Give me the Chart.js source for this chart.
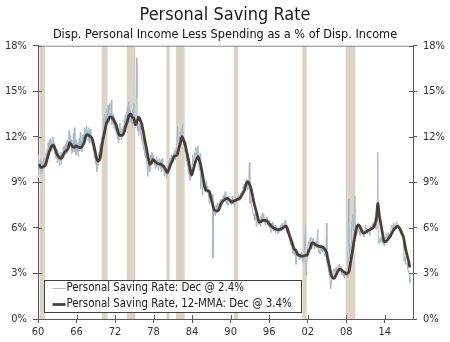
<!DOCTYPE html>
<html>
<head>
<meta charset="utf-8">
<title>Personal Saving Rate</title>
<script src="https://cdn.jsdelivr.net/npm/chart.js@4.4.1/dist/chart.umd.min.js"></script>
<style>
  html, body { margin: 0; padding: 0; background: #fff; }
  canvas { display: block; }
</style>
</head>
<body>
<canvas id="savingChart" width="450" height="342"></canvas>
<script>
// monthly saving rate, Jan 1960 - Dec 2017 (one row per year)
const firstYear = 1960;
const savingRate = [
  10.8, 9.3, 10.2, 9.9, 10.5, 10.0, 9.6, 10.3, 9.8, 10.4, 10.1, 10.6,
  10.0, 10.6, 10.3, 10.9, 10.5, 11.2, 10.8, 11.6, 11.0, 11.8, 11.3, 11.5,
  11.9, 11.1, 11.7, 11.2, 12.0, 11.3, 11.6, 10.9, 11.4, 10.6, 11.2, 10.7,
  10.3, 11.1, 10.5, 10.9, 10.1, 10.8, 10.4, 11.0, 10.2, 10.9, 10.6, 11.3,
  10.6, 11.4, 10.8, 11.5, 11.0, 11.7, 10.9, 11.3, 11.8, 11.2, 12.4, 11.6,
  12.1, 11.3, 11.8, 10.9, 11.6, 11.0, 12.2, 11.4, 12.6, 11.0, 11.5, 10.8,
  11.8, 11.0, 11.6, 10.7, 11.3, 11.9, 11.1, 12.3, 11.2, 11.7, 11.0, 12.1,
  11.4, 12.2, 11.7, 12.6, 11.8, 12.5, 11.9, 12.7, 12.0, 12.4, 11.7, 12.6,
  12.3, 11.6, 12.5, 11.8, 12.1, 11.4, 11.9, 11.1, 11.6, 10.7, 11.2, 10.6,
  10.2, 10.8, 9.7, 10.5, 10.1, 11.0, 10.4, 11.4, 10.8, 11.6, 11.3, 12.0,
  11.6, 12.4, 11.9, 13.2, 12.3, 13.5, 12.8, 13.6, 13.0, 13.8, 13.2, 14.1,
  13.6, 12.9, 14.2, 13.1, 13.8, 14.4, 12.8, 13.5, 12.9, 13.4, 12.6, 13.2,
  12.4, 13.1, 12.2, 12.8, 11.9, 12.6, 11.6, 12.3, 11.8, 12.9, 12.2, 12.6,
  11.8, 12.5, 12.0, 12.7, 12.3, 13.1, 12.5, 13.4, 12.8, 13.6, 13.1, 14.0,
  13.2, 14.3, 13.0, 13.9, 13.2, 13.7, 12.9, 13.5, 12.7, 13.8, 13.1, 14.2,
  12.9, 13.3, 12.6, 13.0, 17.2, 14.6, 12.4, 12.9, 12.1, 12.8, 12.4, 12.7,
  12.2, 11.8, 12.3, 11.5, 11.9, 11.2, 11.6, 10.8, 11.3, 10.6, 11.0, 10.4,
  10.1, 9.4, 10.3, 9.9, 10.6, 9.7, 10.8, 10.2, 11.0, 10.4, 10.9, 10.6,
  10.8, 10.2, 10.6, 9.9, 10.4, 10.0, 10.7, 10.1, 10.5, 9.8, 10.3, 10.6,
  10.4, 9.9, 10.5, 9.7, 10.3, 10.6, 9.8, 10.1, 9.4, 9.9, 9.6, 9.7,
  9.3, 9.8, 9.5, 10.1, 9.9, 10.4, 10.0, 10.6, 10.2, 10.8, 10.5, 10.3,
  10.4, 10.9, 10.6, 11.1, 10.5, 10.9, 11.3, 10.7, 12.1, 12.7, 11.6, 11.9,
  12.0, 11.4, 12.3, 11.7, 12.6, 11.9, 12.8, 11.8, 11.4, 11.7, 11.0, 11.3,
  11.1, 10.4, 10.8, 10.1, 10.3, 9.6, 9.9, 9.2, 9.6, 9.1, 9.8, 9.4,
  10.2, 10.8, 10.1, 10.5, 10.3, 11.0, 10.6, 11.3, 10.8, 10.9, 11.4, 10.7,
  10.9, 9.8, 10.5, 10.9, 8.6, 9.9, 9.4, 8.2, 8.8, 9.2, 8.5, 9.0,
  8.4, 8.9, 8.6, 9.1, 8.3, 8.8, 8.5, 8.1, 7.6, 8.2, 7.9, 8.3,
  8.0, 7.7, 8.2, 4.0, 7.3, 6.9, 7.4, 6.8, 7.0, 7.5, 7.2, 7.6,
  7.4, 7.1, 7.6, 7.2, 7.8, 7.5, 7.9, 7.6, 7.9, 7.7, 8.1, 7.8,
  8.2, 8.0, 8.4, 7.8, 7.6, 8.0, 7.7, 7.5, 7.9, 8.1, 7.8, 7.6,
  7.9, 7.5, 7.8, 8.1, 7.6, 7.9, 7.7, 7.4, 7.8, 7.9, 8.0, 7.7,
  7.8, 8.1, 7.9, 8.2, 8.0, 7.8, 7.9, 8.3, 8.0, 8.1, 8.5, 8.7,
  8.6, 8.9, 8.8, 8.6, 9.0, 9.2, 8.7, 8.9, 8.5, 8.8, 9.3, 10.3,
  7.6, 7.9, 7.7, 7.5, 7.3, 7.1, 7.0, 6.8, 6.9, 6.5, 6.6, 7.0,
  6.1, 6.4, 6.3, 6.7, 6.2, 6.5, 6.6, 6.3, 6.1, 6.8, 6.6, 7.0,
  6.7, 6.4, 6.9, 6.3, 6.5, 6.2, 6.6, 6.4, 6.7, 6.2, 6.4, 6.1,
  6.5, 6.0, 6.2, 5.7, 6.3, 6.0, 6.4, 5.9, 6.1, 5.8, 5.9, 6.2,
  5.7, 5.9, 6.1, 5.8, 5.6, 6.0, 5.9, 5.7, 6.0, 6.2, 5.8, 6.1,
  6.3, 6.0, 6.2, 5.9, 6.4, 6.1, 6.5, 6.0, 6.2, 5.7, 6.1, 5.6,
  5.9, 5.4, 5.3, 5.0, 4.9, 5.2, 4.8, 4.6, 4.3, 4.7, 4.5, 4.2,
  4.4, 4.0, 3.6, 4.3, 4.5, 4.1, 4.4, 4.2, 3.9, 4.1, 4.3, 4.0,
  4.4, 4.2, 4.0, 3.8, 3.7, 3.9, 4.6, 5.6, 6.2, 2.9, 3.6, 3.9,
  4.7, 4.9, 5.1, 4.6, 5.2, 5.4, 4.8, 4.6, 5.0, 5.2, 5.3, 5.1,
  4.8, 4.6, 5.0, 4.9, 5.1, 4.7, 5.6, 5.9, 4.4, 4.6, 4.5, 4.3,
  4.9, 4.7, 4.5, 4.6, 4.4, 4.8, 4.5, 4.3, 4.2, 4.1, 4.4, 6.3,
  3.7, 3.6, 3.4, 3.2, 3.0, 2.8, 2.5, 2.0, 2.4, 2.6, 2.9, 3.0,
  3.3, 3.1, 2.8, 2.9, 3.2, 3.4, 3.1, 2.9, 3.3, 3.5, 3.3, 3.6,
  3.4, 3.3, 3.5, 3.1, 2.9, 3.2, 3.0, 2.8, 3.0, 2.7, 2.9, 3.1,
  3.0, 2.8, 3.2, 2.7, 7.9, 6.3, 4.8, 4.0, 4.6, 5.0, 5.8, 6.4,
  6.9, 6.1, 5.8, 6.7, 8.1, 6.3, 5.9, 5.5, 6.0, 5.7, 6.2, 6.0,
  5.8, 5.6, 5.5, 6.1, 6.0, 5.8, 5.6, 5.9, 5.5, 5.4, 5.7, 5.6,
  6.2, 6.0, 5.7, 5.9, 5.6, 5.8, 5.9, 5.7, 5.5, 5.9, 6.1, 6.0,
  6.1, 6.3, 5.9, 6.2, 6.4, 6.6, 6.3, 6.0, 5.9, 6.4, 7.5, 11.0,
  5.0, 5.2, 5.0, 5.3, 5.1, 5.4, 5.2, 5.0, 5.3, 4.9, 5.1, 4.8,
  5.2, 5.4, 5.3, 5.6, 5.5, 5.3, 5.7, 5.4, 5.6, 5.3, 5.5, 5.8,
  6.0, 6.2, 5.9, 6.1, 6.3, 5.8, 6.0, 6.2, 6.1, 6.4, 6.3, 6.2,
  6.3, 6.1, 6.2, 5.8, 5.9, 5.6, 5.7, 5.5, 5.6, 5.4, 5.5, 5.3,
  3.8, 4.1, 4.1, 3.6, 3.6, 3.7, 3.6, 3.3, 3.1, 3.2, 2.9, 2.4
];

// 12-month moving average, sampled Mar / Jun / Sep / Dec of each year
const savingRateMMA = [
  10.2, 10.0, 10.0, 10.05,
  10.15, 10.5, 10.9, 11.2,
  11.4, 11.45, 11.2, 10.9,
  10.7, 10.6, 10.6, 10.8,
  11.0, 11.1, 11.2, 11.6,
  11.5, 11.35, 11.3, 11.4,
  11.35, 11.3, 11.3, 11.4,
  11.6, 12.0, 12.15, 12.1,
  12.0, 11.9, 11.5, 11.0,
  10.5, 10.4, 10.6, 11.3,
  11.9, 12.4, 12.9, 13.1,
  13.3, 13.3, 13.2, 13.0,
  12.8, 12.4, 12.1, 12.1,
  12.1, 12.3, 12.7, 13.0,
  13.4, 13.5, 13.3, 13.2,
  12.8, 13.0, 13.3, 13.1,
  12.8, 12.3, 11.7, 11.2,
  10.6, 10.2, 10.3, 10.5,
  10.4, 10.3, 10.25, 10.2,
  10.2, 10.1, 10.0, 9.8,
  9.65, 9.9, 10.2, 10.4,
  10.7, 10.75, 10.8, 11.2,
  11.6, 12.0, 11.8, 11.5,
  11.0, 10.5, 9.9, 9.5,
  9.8, 10.2, 10.5, 10.7,
  10.4, 10.0, 9.4, 8.8,
  8.5, 8.45, 8.4, 8.0,
  7.6, 7.2, 7.15, 7.1,
  7.2, 7.5, 7.7, 7.8,
  7.9, 7.95, 7.9, 7.8,
  7.7, 7.75, 7.8, 7.85,
  7.9, 7.95, 8.1, 8.3,
  8.5, 8.9, 9.05, 8.9,
  8.6, 8.1, 7.6, 7.2,
  6.8, 6.4, 6.4, 6.5,
  6.5, 6.5, 6.45, 6.3,
  6.2, 6.1, 6.0, 5.95,
  5.9, 5.87, 5.9, 5.95,
  6.0, 6.1, 6.1, 5.8,
  5.5, 5.2, 4.9, 4.6,
  4.5, 4.25, 4.2, 4.15,
  4.15, 4.15, 4.2, 4.2,
  4.5, 4.7, 5.0, 5.0,
  4.9, 4.85, 4.8, 4.77,
  4.77, 4.7, 4.6, 4.4,
  3.9, 3.4, 2.9, 2.7,
  2.7, 2.9, 3.1, 3.27,
  3.27, 3.15, 3.1, 3.0,
  3.0, 3.1, 3.7, 4.3,
  5.0, 5.6, 6.1, 6.2,
  6.05, 5.8, 5.65, 5.7,
  5.75, 5.85, 5.87, 5.95,
  6.0, 6.2, 6.5, 7.6,
  6.8, 6.2, 5.6, 5.1,
  5.1, 5.2, 5.35, 5.5,
  5.7, 5.9, 6.0, 6.1,
  6.05, 5.9, 5.65, 5.4,
  4.8, 4.3, 3.9, 3.4
];

// NBER recessions, as fractional years
const recessionStart = [1960.25, 1969.92, 1973.83, 1980.0, 1981.5, 1990.5, 2001.17, 2007.92];
const recessionEnd = [1961.08, 1970.83, 1975.17, 1980.5, 1982.83, 1991.17, 2001.83, 2009.42];

const tickYears = [1960, 1966, 1972, 1978, 1984, 1990, 1996, 2002, 2008, 2014];
const tickLabels = ['60', '66', '72', '78', '84', '90', '96', '02', '08', '14'];
const rateTicks = [0, 3, 6, 9, 12, 15, 18];

const fontFamily = '"DejaVu Sans Condensed", "DejaVu Sans", sans-serif';
const axisColor = '#5a5a5a';

const monthlyPoints = savingRate.map((v, i) => ({ x: firstYear + i / 12, y: v }));
const mmaPoints = savingRateMMA.map((v, i) => ({ x: firstYear + (i * 3 + 2) / 12, y: v }));

// shaded recession bands behind the lines
const recessionBands = {
  id: 'recessionBands',
  beforeDatasetsDraw(chart) {
    const { ctx, chartArea, scales } = chart;
    ctx.save();
    ctx.fillStyle = '#d9d4c6';
    recessionStart.forEach((start, i) => {
      const x1 = scales.x.getPixelForValue(start);
      const x2 = scales.x.getPixelForValue(recessionEnd[i]);
      ctx.fillRect(x1, chartArea.top, x2 - x1, chartArea.bottom - chartArea.top);
    });
    ctx.restore();
  }
};

// top border, inner tick marks and the boxed legend
const frameAndLegend = {
  id: 'frameAndLegend',
  afterDatasetsDraw(chart) {
    const { ctx, chartArea, scales } = chart;
    ctx.save();
    ctx.lineWidth = 1;
    ctx.strokeStyle = '#8a8a8a';
    ctx.beginPath();
    ctx.moveTo(chartArea.left, chartArea.top + 0.5);
    ctx.lineTo(chartArea.right, chartArea.top + 0.5);
    ctx.stroke();

    ctx.strokeStyle = axisColor;
    ctx.beginPath();
    rateTicks.forEach(v => {
      const y = Math.round(scales.y.getPixelForValue(v)) + 0.5;
      ctx.moveTo(chartArea.left, y);
      ctx.lineTo(chartArea.left + 4, y);
      ctx.moveTo(chartArea.right, y);
      ctx.lineTo(chartArea.right - 4, y);
    });
    tickYears.forEach(v => {
      const x = Math.round(scales.x.getPixelForValue(v)) + 0.5;
      ctx.moveTo(x, chartArea.bottom);
      ctx.lineTo(x, chartArea.bottom - 4);
    });
    ctx.stroke();

    const boxX = chartArea.left + 6.5;
    const boxY = chartArea.bottom - 38.5;
    const boxW = 257;
    const boxH = 32;
    ctx.fillStyle = '#fff';
    ctx.fillRect(boxX, boxY, boxW, boxH);
    ctx.strokeStyle = '#404040';
    ctx.strokeRect(boxX, boxY, boxW, boxH);

    ctx.font = '11.4px ' + fontFamily;
    ctx.textBaseline = 'middle';
    chart.data.datasets.forEach((ds, i) => {
      const y = boxY + 8 + i * 16;
      ctx.strokeStyle = ds.borderColor;
      ctx.lineWidth = ds.borderWidth;
      ctx.beginPath();
      ctx.moveTo(boxX + 8, y);
      ctx.lineTo(boxX + 21, y);
      ctx.stroke();
      ctx.fillStyle = '#222';
      ctx.fillText(ds.label, boxX + 22, y);
    });
    ctx.restore();
  }
};

const ctx = document.getElementById('savingChart');
const chart = new Chart(ctx, {
  type: 'line',
  data: {
    datasets: [
      {
        label: 'Personal Saving Rate: Dec @ 2.4%',
        data: monthlyPoints,
        borderColor: '#a7b9cb',
        borderWidth: 1,
        pointRadius: 0,
        tension: 0,
        order: 2
      },
      {
        label: 'Personal Saving Rate, 12-MMA: Dec @ 3.4%',
        data: mmaPoints,
        borderColor: '#4a3e34',
        borderWidth: 2.75,
        pointRadius: 0,
        tension: 0.3,
        order: 1
      }
    ]
  },
  options: {
    responsive: false,
    animation: false,
    devicePixelRatio: 1,
    layout: { padding: 0 },
    plugins: {
      legend: { display: false },
      tooltip: { enabled: false },
      title: {
        display: true,
        text: 'Personal Saving Rate',
        color: '#1a1a1a',
        font: { family: fontFamily, size: 18, weight: 'normal' },
        padding: { top: 5, bottom: 1 }
      },
      subtitle: {
        display: true,
        text: 'Disp. Personal Income Less Spending as a % of Disp. Income',
        color: '#111',
        font: { family: fontFamily, size: 12.6 },
        padding: { top: 0, bottom: 3 }
      }
    },
    scales: {
      x: {
        type: 'linear',
        min: 1960,
        max: 2018.4,
        afterBuildTicks: scale => { scale.ticks = tickYears.map(v => ({ value: v })); },
        afterFit: scale => { scale.height = 23; },
        ticks: {
          color: '#333',
          font: { family: fontFamily, size: 11 },
          padding: 3,
          maxRotation: 0,
          callback: (value, index) => tickLabels[index]
        },
        grid: { drawOnChartArea: false, color: axisColor, tickLength: 4 },
        border: { color: axisColor }
      },
      y: {
        position: 'left',
        min: 0,
        max: 18,
        afterFit: scale => { scale.width = 38; },
        ticks: {
          stepSize: 3,
          color: '#333',
          font: { family: fontFamily, size: 11 },
          padding: 6,
          callback: value => value + '%'
        },
        grid: { drawOnChartArea: false, color: axisColor, tickLength: 5 },
        border: { color: axisColor }
      },
      y2: {
        position: 'right',
        min: 0,
        max: 18,
        afterFit: scale => { scale.width = 37; },
        ticks: {
          stepSize: 3,
          color: '#333',
          font: { family: fontFamily, size: 11 },
          padding: 6,
          callback: value => value + '%'
        },
        grid: { drawOnChartArea: false, color: axisColor, tickLength: 4 },
        border: { color: axisColor }
      }
    }
  },
  plugins: [recessionBands, frameAndLegend]
});
</script>
</body>
</html>
